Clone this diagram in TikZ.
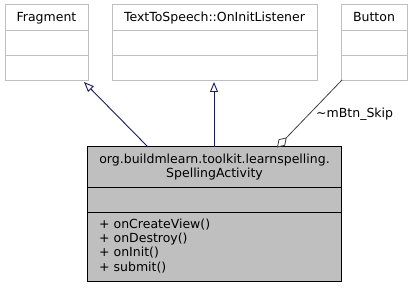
\documentclass[tikz,border=0pt]{standalone}
\usepackage{fontspec}
\setmainfont{DejaVu Sans}
\usetikzlibrary{arrows.meta}
\definecolor{edgeblue}{HTML}{191970}
\definecolor{edgegrey}{HTML}{404040}
\definecolor{boxline}{HTML}{BFBFBF}
\definecolor{boxfill}{HTML}{BFBFBF}
\begin{document}
\begin{tikzpicture}[x=1pt,y=-1pt,
  font=\fontsize{12.5}{14.4}\selectfont,
  extbox/.style={draw=boxline,fill=white,line width=1pt},
  mainbox/.style={draw=black,fill=boxfill,line width=1pt},
  lbl/.style={inner sep=0pt,anchor=base},
  inherit/.style={draw=edgeblue,line width=0.9pt,-{Triangle[open,length=10pt,width=8pt]}},
  member/.style={draw=edgegrey,line width=0.8pt,{Diamond[open,length=14pt,width=9pt]}-}
]
\useasboundingbox (0,0) rectangle (411,288);

% base classes
\coordinate (fragNW) at (5,5);   \coordinate (fragSE) at (88,81);
\coordinate (ttsNW)  at (112,5); \coordinate (ttsSE)  at (317,81);
\coordinate (btnNW)  at (341,5); \coordinate (btnSE)  at (407,81);
\draw[extbox] (fragNW) rectangle (fragSE);
\draw[extbox] (ttsNW) rectangle (ttsSE);
\draw[extbox] (btnNW) rectangle (btnSE);
\foreach \a/\b in {5/88,112/317,341/407}{
  \draw[boxline,line width=1pt] (\a,31) -- (\b,31);
  \draw[boxline,line width=1pt] (\a,56) -- (\b,56);
}
\node[lbl] (fragT) at (46.5,22) {Fragment};
\node[lbl] (ttsT)  at (214.5,22) {TextToSpeech::OnInitListener};
\node[lbl] (btnT)  at (374,22) {Button};

% derived class
\coordinate (saNW) at (87.5,147); \coordinate (saSE) at (341,281);
\draw[mainbox] (saNW) rectangle (saSE);
\draw[line width=1pt] (87.5,187) -- (341,187);
\draw[line width=1pt] (87.5,212) -- (341,212);
\node[lbl] (saT1) at (214.5,163.5) {org.buildmlearn.toolkit.learnspelling.};
\node[lbl] (saT2) at (214.5,178) {SpellingActivity};
\node[inner sep=0pt,anchor=north west,align=left,text depth=0pt] (saM) at (99,218.5)
  {+ onCreateView()\\+ onDestroy()\\+ onInit()\\+ submit()};

% connectors
\coordinate (a1) at (148,147); \coordinate (f1) at (84,82);
\coordinate (a2) at (214,147); \coordinate (t2) at (214,82);
\coordinate (a3) at (277,147.5); \coordinate (b3) at (342,80);
\draw[inherit] (a1) -- (f1);
\draw[inherit] (a2) -- (t2);
\draw[member] (a3) -- (b3);
\node[lbl,anchor=base west] (skipL) at (316,118) {\textasciitilde mBtn\_Skip};
\end{tikzpicture}
\end{document}
